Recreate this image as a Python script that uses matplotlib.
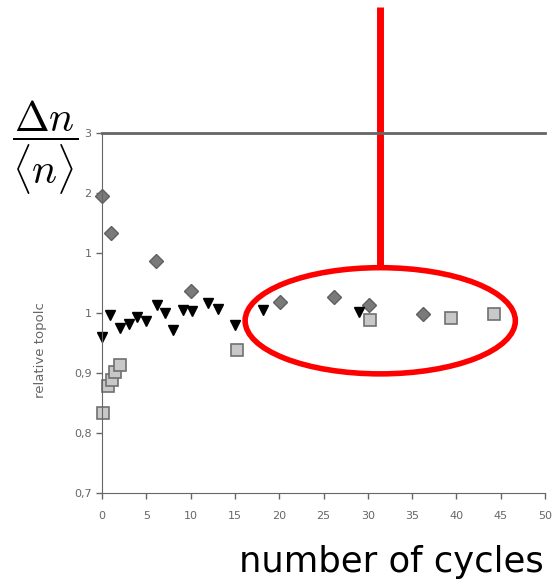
import matplotlib
matplotlib.use('Agg')
import matplotlib.pyplot as plt
from matplotlib.patches import Ellipse

# diamonds (grey)
dia_x = [0, 1, 6.1, 10, 20.1, 26.2, 30.1, 36.2]
dia_y = [1.195, 1.133, 1.087, 1.037, 1.018, 1.027, 1.013, 0.998]

# triangles (black, pointing down)
tri_x = [0, 0.9, 2, 3, 4, 5, 6.2, 7.1, 8, 9.1, 10.1, 12, 13.1, 15, 18.2, 29]
tri_y = [0.96, 0.997, 0.975, 0.982, 0.993, 0.987, 1.013, 1.0, 0.972, 1.005,
         1.003, 1.017, 1.007, 0.98, 1.005, 1.002]

# squares (light grey)
sq_x = [0.1, 0.7, 1.1, 1.5, 2, 15.2, 30.2, 39.4, 44.2]
sq_y = [0.833, 0.878, 0.888, 0.902, 0.913, 0.938, 0.988, 0.992, 0.998]

xticks = [0, 5, 10, 15, 20, 25, 30, 35, 40, 45, 50]
yticks = [0.7, 0.8, 0.9, 1.0, 1.1, 1.2, 1.3]
ytick_labels = ['0,7', '0,8', '0,9', '1', '1', '2', '3']

fig = plt.figure(figsize=(5.59, 5.82), dpi=100)
ax = fig.add_axes([0.1825, 0.153, 0.7925, 0.6185])

ax.plot(dia_x, dia_y, 'D', ms=7, color='#7a7a7a', mec='#606060', clip_on=False)
ax.plot(tri_x, tri_y, 'v', ms=7, color='black', clip_on=False)
ax.plot(sq_x, sq_y, 's', ms=8, color='#c8c8c8', mec='#707070', mew=1.2, clip_on=False)

ax.set_xlim(0, 50)
ax.set_ylim(0.7, 1.3)
ax.set_xticks(xticks)
ax.set_xticklabels([str(t) for t in xticks])
ax.set_yticks(yticks)
ax.set_yticklabels(ytick_labels)
ax.tick_params(labelsize=8, colors='#666666', length=4, width=1)
ax.tick_params(axis='x', pad=9)

for s in ['left', 'bottom']:
    ax.spines[s].set_color('#666666')
ax.spines['right'].set_visible(False)
ax.spines['top'].set_color('#666666')
ax.spines['top'].set_linewidth(2)

ax.set_ylabel('relative topolc', fontsize=9.5, color='#666666')
ax.yaxis.set_label_coords(-0.124, 0.397)

# red highlight
ell = Ellipse((31.4, 0.987), 30.5, 0.177, fill=False, ec='red', lw=4, clip_on=False)
ax.add_patch(ell)
ax.plot([31.4, 31.4], [1.0755, 1.51], color='red', lw=5, clip_on=False, solid_capstyle='butt')

fig.text(0.08, 0.745, r'$\dfrac{\Delta n}{\langle n\rangle}$', fontsize=30,
         ha='center', va='center', math_fontfamily='cm')
fig.text(0.972, 0.017, 'number of cycles', fontsize=25.5, ha='right', va='baseline',
         family='DejaVu Sans')

fig.savefig('out.png', dpi=100)
